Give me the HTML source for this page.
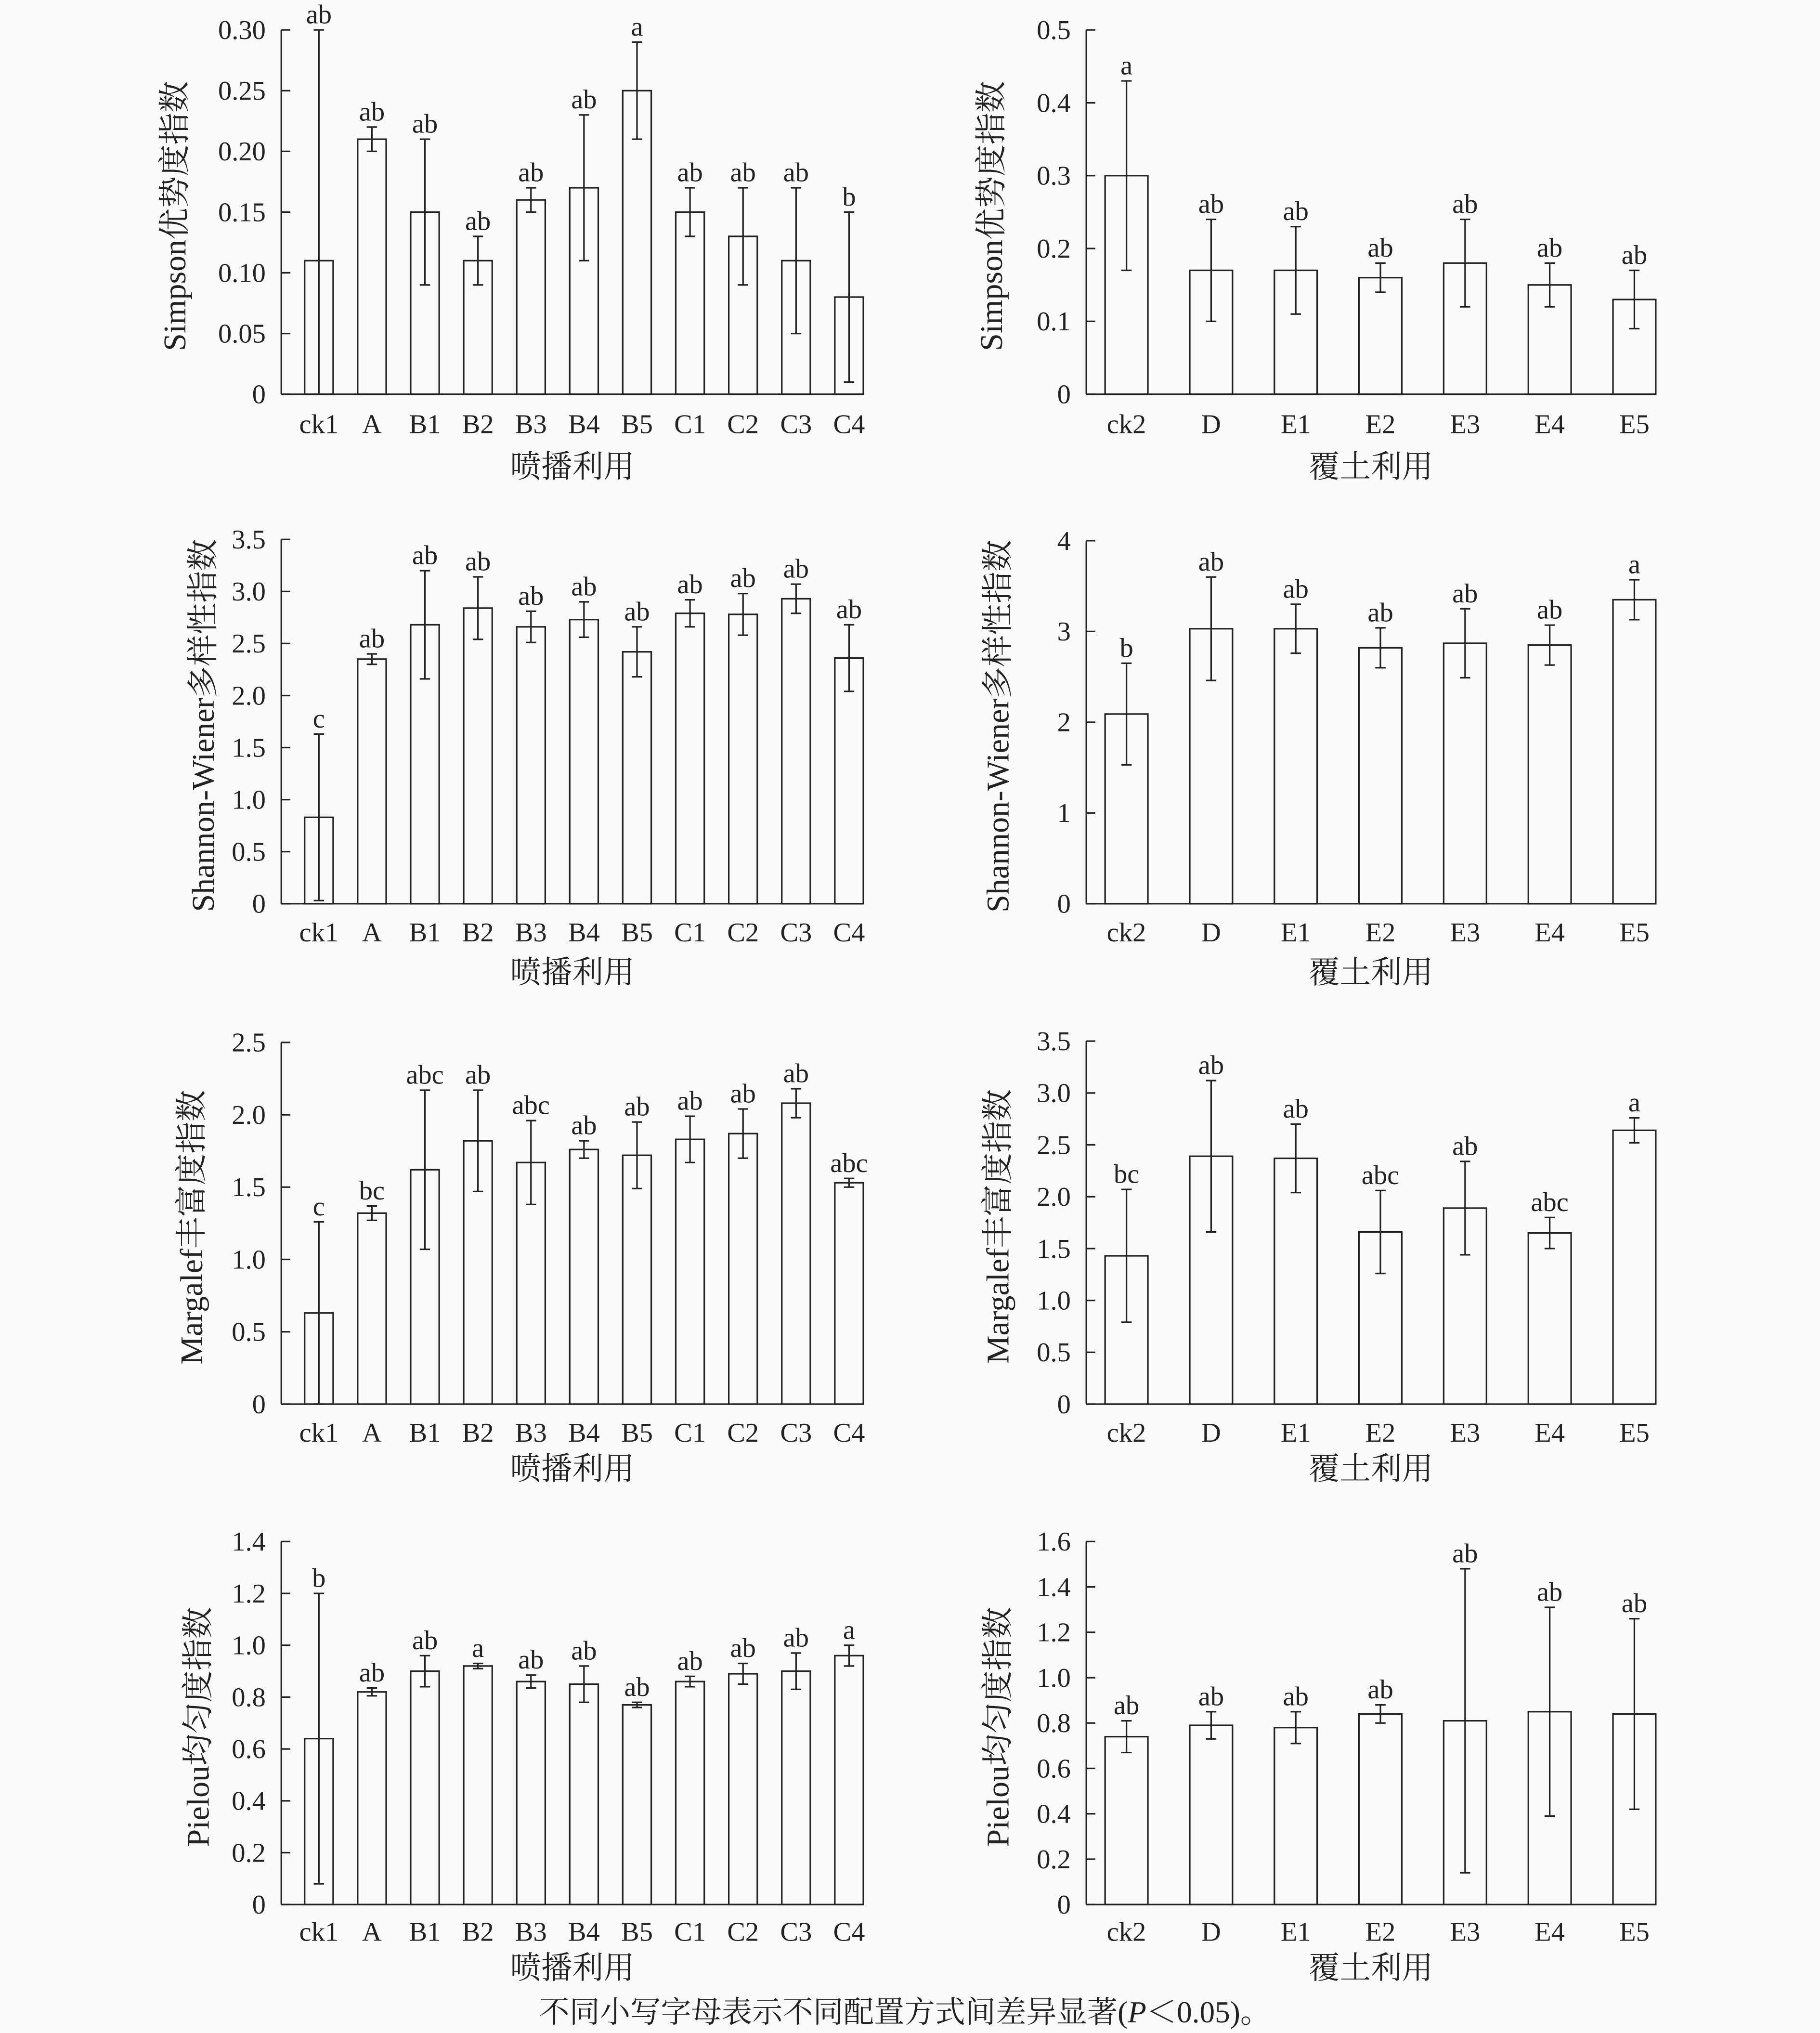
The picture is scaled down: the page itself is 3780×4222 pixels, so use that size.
<!DOCTYPE html>
<html><head><meta charset="utf-8"><style>
html,body{margin:0;padding:0;background:#fafafa;}
svg{display:block;}
text{font-family:"Liberation Serif","Noto Serif CJK SC",serif;fill:#222;}
</style></head><body>
<svg id="s" xmlns="http://www.w3.org/2000/svg" width="3780" height="4222" viewBox="0 0 1404 1568"></svg>
<script>
var P=[
{ax:217,x0:246,dx:40.9,bw:22,xend:666,y0:304,ytop:23,max:0.30,ticks:[0,0.05,0.10,0.15,0.20,0.25,0.30],tf:function(v){return v==0?"0":v.toFixed(2)},
 cats:["ck1","A","B1","B2","B3","B4","B5","C1","C2","C3","C4"],
 v:[.11,.21,.15,.11,.16,.17,.25,.15,.13,.11,.08],e:[.19,.01,.06,.02,.01,.06,.04,.02,.04,.06,.07],
 l:["ab","ab","ab","ab","ab","ab","a","ab","ab","ab","b"],yl:"Simpson优势度指数",ylx:135,xl:"喷播利用",xly:360,cy:327},
{ax:838,x0:869,dx:65.3,bw:33,xend:1277,y0:304,ytop:23,max:0.5,ticks:[0,.1,.2,.3,.4,.5],tf:function(v){return v==0?"0":v.toFixed(1)},
 cats:["ck2","D","E1","E2","E3","E4","E5"],v:[.30,.17,.17,.16,.18,.15,.13],e:[.13,.07,.06,.02,.06,.03,.04],
 l:["a","ab","ab","ab","ab","ab","ab"],yl:"Simpson优势度指数",ylx:765,xl:"覆土利用",xly:360,cy:327},
{ax:217,x0:246,dx:40.9,bw:22,xend:666,y0:697,ytop:416,max:3.5,ticks:[0,.5,1,1.5,2,2.5,3,3.5],tf:function(v){return v==0?"0":v.toFixed(1)},
 cats:["ck1","A","B1","B2","B3","B4","B5","C1","C2","C3","C4"],
 v:[.83,2.35,2.68,2.84,2.66,2.73,2.42,2.79,2.78,2.93,2.36],e:[.8,.05,.52,.3,.15,.17,.24,.13,.2,.14,.32],
 l:["c","ab","ab","ab","ab","ab","ab","ab","ab","ab","ab"],yl:"Shannon-Wiener多样性指数",ylx:157,xl:"喷播利用",xly:750,cy:719},
{ax:838,x0:869,dx:65.3,bw:33,xend:1277,y0:697,ytop:417,max:4,ticks:[0,1,2,3,4],tf:function(v){return ""+v},
 cats:["ck2","D","E1","E2","E3","E4","E5"],v:[2.09,3.03,3.03,2.82,2.87,2.85,3.35],e:[.56,.57,.27,.22,.38,.22,.22],
 l:["b","ab","ab","ab","ab","ab","a"],yl:"Shannon-Wiener多样性指数",ylx:770,xl:"覆土利用",xly:750,cy:719},
{ax:217,x0:246,dx:40.9,bw:22,xend:666,y0:1083,ytop:804,max:2.5,ticks:[0,.5,1,1.5,2,2.5],tf:function(v){return v==0?"0":v.toFixed(1)},
 cats:["ck1","A","B1","B2","B3","B4","B5","C1","C2","C3","C4"],
 v:[.63,1.32,1.62,1.82,1.67,1.76,1.72,1.83,1.87,2.08,1.53],e:[.63,.05,.55,.35,.29,.06,.23,.16,.17,.1,.03],
 l:["c","bc","abc","ab","abc","ab","ab","ab","ab","ab","abc"],yl:"Margalef丰富度指数",ylx:148,xl:"喷播利用",xly:1133,cy:1105},
{ax:838,x0:869,dx:65.3,bw:33,xend:1277,y0:1083,ytop:803,max:3.5,ticks:[0,.5,1,1.5,2,2.5,3,3.5],tf:function(v){return v==0?"0":v.toFixed(1)},
 cats:["ck2","D","E1","E2","E3","E4","E5"],v:[1.43,2.39,2.37,1.66,1.89,1.65,2.64],e:[.64,.73,.33,.4,.45,.15,.12],
 l:["bc","ab","ab","abc","ab","abc","a"],yl:"Margalef丰富度指数",ylx:770,xl:"覆土利用",xly:1133,cy:1105},
{ax:217,x0:246,dx:40.9,bw:22,xend:666,y0:1469,ytop:1189,max:1.4,ticks:[0,.2,.4,.6,.8,1,1.2,1.4],tf:function(v){return v==0?"0":v.toFixed(1)},
 cats:["ck1","A","B1","B2","B3","B4","B5","C1","C2","C3","C4"],
 v:[.64,.82,.9,.92,.86,.85,.77,.86,.89,.9,.96],e:[.56,.015,.06,.01,.025,.07,.01,.02,.04,.07,.04],
 l:["b","ab","ab","a","ab","ab","ab","ab","ab","ab","a"],yl:"Pielou均匀度指数",ylx:153,xl:"喷播利用",xly:1518,cy:1490},
{ax:838,x0:869,dx:65.3,bw:33,xend:1277,y0:1469,ytop:1189,max:1.6,ticks:[0,.2,.4,.6,.8,1,1.2,1.4,1.6],tf:function(v){return v==0?"0":v.toFixed(1)},
 cats:["ck2","D","E1","E2","E3","E4","E5"],v:[.74,.79,.78,.84,.81,.85,.84],e:[.07,.06,.07,.04,.67,.46,.42],
 l:["ab","ab","ab","ab","ab","ab","ab"],yl:"Pielou均匀度指数",ylx:770,xl:"覆土利用",xly:1518,cy:1490}
];
var o="";
function L(a,b,c,d){o+='<line x1="'+a+'" y1="'+b+'" x2="'+c+'" y2="'+d+'" stroke="#222" stroke-width="1.2"/>';}
function T(x,y,s,fs,anc,extra){o+='<text x="'+x+'" y="'+y+'" font-size="'+fs+'" text-anchor="'+(anc||"middle")+'" '+(extra||"")+'>'+s+'</text>';}
P.forEach(function(p){
 var k=(p.y0-p.ytop)/p.max; function Y(v){return p.y0-v*k;}
 L(p.ax,p.ytop,p.ax,p.y0);L(p.ax,p.y0,p.xend,p.y0);
 p.ticks.forEach(function(t){var y=Y(t);L(p.ax,y,p.ax+7,y);T(p.ax-12,y+7,p.tf(t),21,"end");});
 p.cats.forEach(function(c,i){
  var x=p.x0+i*p.dx,v=p.v[i],e=p.e[i];
  o+='<rect x="'+(x-p.bw/2)+'" y="'+Y(v)+'" width="'+p.bw+'" height="'+(p.y0-Y(v))+'" fill="none" stroke="#222" stroke-width="1.2"/>';
  var hi=Y(v+e),lo=Y(Math.max(0,v-e));
  L(x,hi,x,lo);L(x-4,hi,x+4,hi);L(x-4,lo,x+4,lo);
  T(x,hi-5,p.l[i],21);
  T(x,p.cy+7,c,21);
 });
 T((p.ax+p.xend)/2,p.xly+8,p.xl,24);
 var cy=(p.ytop+p.y0)/2+3;
 T(p.ylx,cy,p.yl,24.5,"middle",'transform="rotate(-90 '+p.ylx+' '+cy+')" dominant-baseline="central"');
});
T(698,1560,'不同小写字母表示不同配置方式间差异显著(<tspan font-style="italic">P</tspan>＜0.05)。',23.5);
document.getElementById("s").innerHTML=o;
</script>
</body></html>
